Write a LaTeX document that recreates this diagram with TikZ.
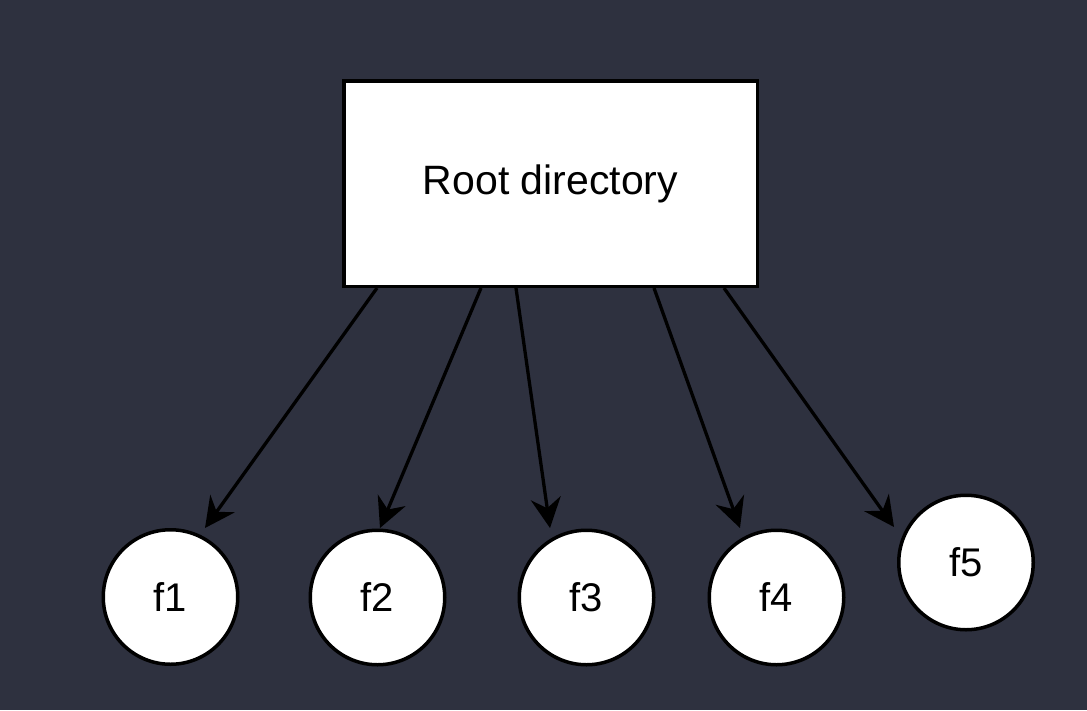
\documentclass[tikz,border=0pt]{standalone}
\usepackage{fontspec}
\setmainfont{Liberation Sans}
\usetikzlibrary{arrows.meta,calc}
\definecolor{bgc}{HTML}{2E313F}
\tikzset{
  rootbox/.style={draw=black, fill=white, line width=3.5pt, minimum width=413.5pt, minimum height=205.5pt, inner sep=0pt, font=\fontsize{41}{49}\selectfont},
  filenode/.style={circle, draw=black, fill=white, line width=3.5pt, minimum size=134.5pt, inner sep=0pt, font=\fontsize{40}{48}\selectfont},
  arr/.style={line width=3.3pt, -{Stealth[length=30pt, width=30pt, inset=10pt]}}
}
\begin{document}
\begin{tikzpicture}[x=1pt, y=-1pt]
\fill[bgc] (0,0) rectangle (1087,710);
\useasboundingbox (0,0) rectangle (1087,710);
\node[rootbox] (root) at (550.5,183.5) {Root directory};
\node[filenode] (f1) at (170.5,597) {f1};
\node[filenode] (f2) at (377.5,597.5) {f2};
\node[filenode] (f3) at (586.5,597.5) {f3};
\node[filenode] (f4) at (776.5,597.5) {f4};
\node[filenode] (f5) at (966,562.5) {f5};
\draw[arr] ($(root.south)+(-173.5,0)$) -- ($(f1.center)+(34.5,-69)$);
\draw[arr] ($(root.south)+(-69.5,0)$) -- ($(f2.center)+(2.5,-69.5)$);
\draw[arr] ($(root.south)+(-34.5,0)$) -- ($(f3.center)+(-36.5,-69.5)$);
\draw[arr] ($(root.south)+(103.5,0)$) -- ($(f4.center)+(-36.5,-69.5)$);
\draw[arr] ($(root.south)+(173.5,0)$) -- ($(f5.center)+(-72,-35.5)$);
\end{tikzpicture}
\end{document}
